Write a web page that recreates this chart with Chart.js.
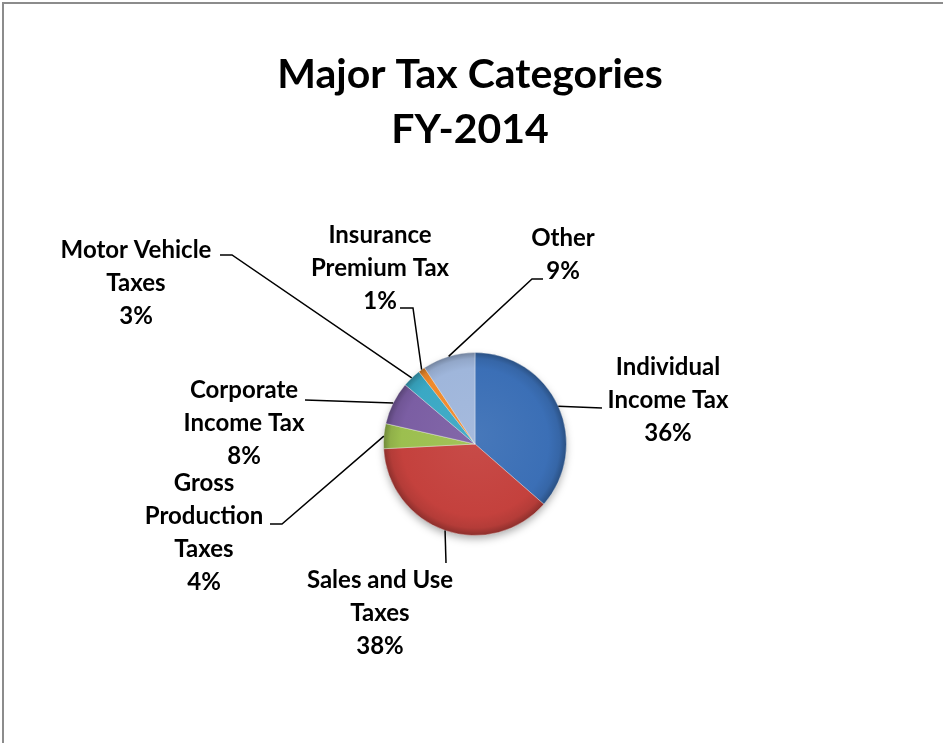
<!DOCTYPE html>
<html>
<head>
<meta charset="utf-8">
<script src="https://cdn.jsdelivr.net/npm/chart.js@4.4.1/dist/chart.umd.min.js"></script>
<style>
  html, body { margin: 0; padding: 0; background: #ffffff; }
  canvas { display: block; }
</style>
</head>
<body>
<canvas id="c" width="943" height="743"></canvas>
<script>
// ---- data ----
const titleLines = ["Major Tax Categories", "FY-2014"];
const categories = ["Individual Income Tax", "Sales and Use Taxes", "Gross Production Taxes",
  "Corporate Income Tax", "Motor Vehicle Taxes", "Insurance Premium Tax", "Other"];
const labelLines = [
  ["Individual", "Income Tax"],
  ["Sales and Use", "Taxes"],
  ["Gross", "Production", "Taxes"],
  ["Corporate", "Income Tax"],
  ["Motor Vehicle", "Taxes"],
  ["Insurance", "Premium Tax"],
  ["Other"]
];
const shares = [36.4, 37.7, 4.4, 7.6, 3.3, 1.2, 9.3];
const sliceColors = ["#3b6fb6", "#c4413d", "#9cbf4f", "#7b5ea3", "#3aa8c4", "#f08a2c", "#9fb6db"];

// ---- layout (label placement relative to pie centre) ----
const labelLayout = [
  { cx: 193, y0: -77, path: [[127, -36]] },
  { cx: -95, y0: 136, path: [[-29, 119]] },
  { cx: -271, y0: 39, path: [[-193, 80], [-205, 80]] },
  { cx: -231, y0: -54, path: [[-170, -44]] },
  { cx: -339, y0: -194, path: [[-243, -189], [-255, -189]] },
  { cx: -95, y0: -209, path: [[-62, -136], [-75, -136]] },
  { cx: 88, y0: -206, path: [[57, -165], [68, -165]] }
];
const labelFont = "bold 24px Lato, 'Open Sans', sans-serif";
const lineStep = 33;

function shade(hex, f) {
  const n = parseInt(hex.slice(1), 16);
  let r = (n >> 16) & 255, g = (n >> 8) & 255, b = n & 255;
  if (f >= 0) { r += (255 - r) * f; g += (255 - g) * f; b += (255 - b) * f; }
  else { r *= (1 + f); g *= (1 + f); b *= (1 + f); }
  return `rgb(${Math.round(r)},${Math.round(g)},${Math.round(b)})`;
}

const total = shares.reduce((a, b) => a + b, 0);

const decorPlugin = {
  id: 'decor',
  beforeDatasetsDraw(chart) {
    const ctx = chart.ctx;
    ctx.save();
    const meta = chart.getDatasetMeta(0);
    const a = meta.data[0];
    if (a) {
      ctx.shadowColor = 'rgba(0,0,0,0.35)';
      ctx.shadowBlur = 8;
      ctx.shadowOffsetY = 4;
      ctx.beginPath();
      ctx.arc(a.x, a.y, a.outerRadius - 1, 0, Math.PI * 2);
      ctx.fillStyle = '#888';
      ctx.fill();
    }
    ctx.restore();
  },
  afterDraw(chart) {
    const ctx = chart.ctx;
    ctx.save();
    // frame
    ctx.strokeStyle = '#8c8c8c';
    ctx.lineWidth = 2;
    ctx.beginPath();
    ctx.moveTo(3, 743);
    ctx.lineTo(3, 3);
    ctx.lineTo(943, 3);
    ctx.stroke();

    // title
    ctx.fillStyle = '#000';
    ctx.textAlign = 'center';
    ctx.textBaseline = 'middle';
    ctx.font = "bold 41px Lato, 'Open Sans', sans-serif";
    titleLines.forEach((t, i) => ctx.fillText(t, 470, 75 + i * 55));

    // labels & leader lines
    const meta = chart.getDatasetMeta(0);
    ctx.font = labelFont;
    ctx.lineWidth = 1.5;
    ctx.strokeStyle = '#000';
    meta.data.forEach((arc, i) => {
      const L = labelLayout[i];
      const mid = (arc.startAngle + arc.endAngle) / 2;
      const sx = arc.x + Math.cos(mid) * arc.outerRadius;
      const sy = arc.y + Math.sin(mid) * arc.outerRadius;
      ctx.beginPath();
      ctx.moveTo(sx, sy);
      L.path.forEach(p => ctx.lineTo(arc.x + p[0], arc.y + p[1]));
      ctx.stroke();
      const lines = labelLines[i].concat([Math.round(shares[i] / total * 100) + '%']);
      lines.forEach((t, k) => ctx.fillText(t, arc.x + L.cx, arc.y + L.y0 + k * lineStep));
    });
    ctx.restore();
  }
};

new Chart(document.getElementById('c'), {
  type: 'pie',
  data: {
    labels: categories,
    datasets: [{
      data: shares,
      backgroundColor: (c) => {
        const base = sliceColors[c.dataIndex];
        const ca = c.chart.chartArea;
        if (!ca) return base;
        const cx = (ca.left + ca.right) / 2, cy = (ca.top + ca.bottom) / 2;
        const r = Math.min(ca.right - ca.left, ca.bottom - ca.top) / 2;
        const g = c.chart.ctx.createRadialGradient(cx, cy - r * 0.1, 0, cx, cy, r);
        g.addColorStop(0, shade(base, 0.06));
        g.addColorStop(0.8, base);
        g.addColorStop(0.92, shade(base, -0.08));
        g.addColorStop(1, shade(base, -0.3));
        return g;
      },
      borderColor: 'rgba(255,255,255,0.35)',
      borderWidth: 1
    }]
  },
  options: {
    responsive: false,
    animation: false,
    devicePixelRatio: 1,
    layout: { padding: { left: 383, right: 376, top: 352, bottom: 207 } },
    plugins: {
      legend: { display: false },
      title: { display: false },
      tooltip: { enabled: false }
    }
  },
  plugins: [decorPlugin]
});
</script>
</body>
</html>
